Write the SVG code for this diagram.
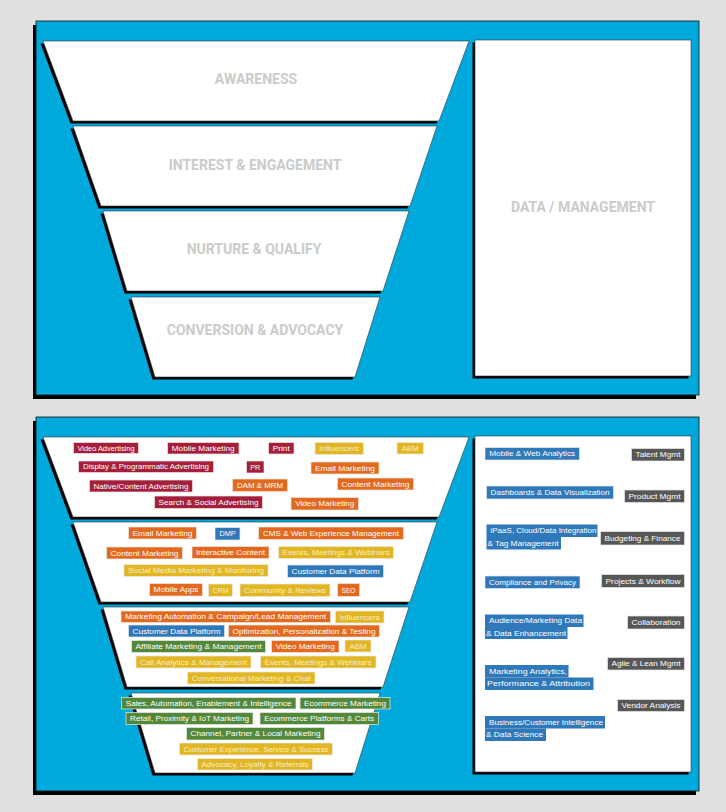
<svg xmlns="http://www.w3.org/2000/svg" width="726" height="812" viewBox="0 0 726 812">
<style>
.bg{fill:#e0e0e0}
.panel{fill:#00a9dc;stroke:#111;stroke-width:0.8}
.sh{fill:#000}
.box{fill:#fff;stroke:#333;stroke-width:0.6}
.hd{font-family:Roboto,"Liberation Sans",sans-serif;font-weight:bold;font-size:14px;fill:#cbcbcb;text-anchor:middle}
.t{stroke:#e8e8e8;stroke-width:0.7}
.red{fill:#a51f3b}.org{fill:#e2691e}.yel{fill:#e2b623}.blu{fill:#2f78b9}.grn{fill:#53883a}.gry{fill:#575757}
.tl{font-family:"Liberation Sans",Arial,sans-serif;font-size:7.5px;fill:#fff;text-anchor:middle}
.ty{fill:#f6efc4}
.ts{font-family:"Liberation Sans",Arial,sans-serif;font-size:7.5px;fill:#fff;text-anchor:start}
</style>
<rect class="bg" x="0" y="0" width="726" height="812"/>

<!-- TOP PANEL -->
<g id="top-panel">
<rect class="sh" x="33" y="25" width="663" height="374"/>
<rect class="panel" x="36" y="21" width="663" height="374"/>
</g>
<g id="awareness">
<polygon class="sh" points="40.5,43.5 466.5,43.5 436.5,123.5 70.5,123.5"/>
<polygon class="box" points="43,41 469,41 439,121 73,121"/>
<text class="hd" x="256" y="84">AWARENESS</text>
</g>
<g id="interest">
<polygon class="sh" points="70.5,128.5 434.5,128.5 407.5,208.5 98.5,208.5"/>
<polygon class="box" points="73,126 437,126 410,206 101,206"/>
<text class="hd" x="255" y="170">INTEREST &amp; ENGAGEMENT</text>
</g>
<g id="nurture">
<polygon class="sh" points="100.5,213.5 406.5,213.5 380.5,293.5 124.5,293.5"/>
<polygon class="box" points="103,211 409,211 383,291 127,291"/>
<text class="hd" x="254" y="254">NURTURE &amp; QUALIFY</text>
</g>
<g id="conversion">
<polygon class="sh" points="128.5,299.5 377.5,299.5 352.5,379.5 152.5,379.5"/>
<polygon class="box" points="131,297 380,297 355,377 155,377"/>
<text class="hd" x="255" y="335">CONVERSION &amp; ADVOCACY</text>
</g>
<g id="data-management">
<rect class="sh" x="472.5" y="42.5" width="216" height="336"/>
<rect class="box" x="475" y="40" width="216" height="336"/>
<text class="hd" x="583" y="212">DATA / MANAGEMENT</text>
</g>

<!-- BOTTOM PANEL -->
<g id="bottom-panel">
<rect class="sh" x="33" y="421" width="663" height="374"/>
<rect class="panel" x="36" y="417" width="663" height="374"/>
</g>
<g id="funnel-1">
<polygon class="sh" points="40.5,439.5 466.5,439.5 436.5,519.5 70.5,519.5"/>
<polygon class="box" points="43,437 469,437 439,517 73,517"/>
</g>
<g id="funnel-2">
<polygon class="sh" points="70.5,524.5 434.5,524.5 407.5,604.5 98.5,604.5"/>
<polygon class="box" points="73,522 437,522 410,602 101,602"/>
</g>
<g id="funnel-3">
<polygon class="sh" points="100.5,609.5 406.5,609.5 380.5,689.5 124.5,689.5"/>
<polygon class="box" points="103,607 409,607 383,687 127,687"/>
</g>
<g id="funnel-4">
<polygon class="sh" points="128.5,695.5 377.5,695.5 352.5,775.5 152.5,775.5"/>
<polygon class="box" points="131,693 380,693 355,773 155,773"/>
</g>
<g id="data-panel">
<rect class="sh" x="472.5" y="438.5" width="216" height="336"/>
<rect class="box" x="475" y="436" width="216" height="336"/>
</g>

<!-- Funnel 1 tags -->
<g id="t1-video-adv"><rect class="t red" x="73.5" y="442.5" width="65" height="11"/><text class="tl" x="106" y="450.6" textLength="57" lengthAdjust="spacingAndGlyphs">Video Advertising</text></g>
<g id="t1-mobile"><rect class="t red" x="167.5" y="442.5" width="71.5" height="11.5"/><text class="tl" x="203.2" y="450.8" textLength="63" lengthAdjust="spacingAndGlyphs">Mobile Marketing</text></g>
<g id="t1-print"><rect class="t red" x="268.5" y="442.5" width="25.5" height="11.5"/><text class="tl" x="281.2" y="450.8" textLength="17" lengthAdjust="spacingAndGlyphs">Print</text></g>
<g id="t1-influencers"><rect class="t yel" x="315" y="442.5" width="48.5" height="12"/><text class="tl ty" x="339.2" y="451" textLength="40" lengthAdjust="spacingAndGlyphs">Influencers</text></g>
<g id="t1-abm"><rect class="t yel" x="397" y="442.5" width="26.5" height="11.5"/><text class="tl ty" x="410.2" y="450.8" textLength="17" lengthAdjust="spacingAndGlyphs">ABM</text></g>
<g id="t1-display"><rect class="t red" x="78.5" y="461" width="135" height="11.5"/><text class="tl" x="146" y="469.3" textLength="126" lengthAdjust="spacingAndGlyphs">Display &amp; Programmatic Advertising</text></g>
<g id="t1-pr"><rect class="t red" x="246.5" y="461" width="17.5" height="12"/><text class="tl" x="255.2" y="469.6" textLength="10" lengthAdjust="spacingAndGlyphs">PR</text></g>
<g id="t1-email"><rect class="t org" x="311" y="462" width="68" height="12"/><text class="tl" x="345" y="470.6" textLength="60" lengthAdjust="spacingAndGlyphs">Email Marketing</text></g>
<g id="t1-native"><rect class="t red" x="89.5" y="480" width="103" height="12"/><text class="tl" x="141" y="488.6" textLength="95" lengthAdjust="spacingAndGlyphs">Native/Content Advertising</text></g>
<g id="t1-dam"><rect class="t org" x="232.5" y="479" width="55" height="12.5"/><text class="tl" x="260" y="487.9" textLength="46" lengthAdjust="spacingAndGlyphs">DAM &amp; MRM</text></g>
<g id="t1-content"><rect class="t org" x="337.5" y="478" width="76" height="12"/><text class="tl" x="375.5" y="486.6" textLength="68" lengthAdjust="spacingAndGlyphs">Content Marketing</text></g>
<g id="t1-search"><rect class="t red" x="154.5" y="496" width="108" height="12.5"/><text class="tl" x="208.5" y="504.9" textLength="100" lengthAdjust="spacingAndGlyphs">Search &amp; Social Advertising</text></g>
<g id="t1-video-mkt"><rect class="t org" x="291" y="497.5" width="67.5" height="12.5"/><text class="tl" x="324.7" y="506.4" textLength="59" lengthAdjust="spacingAndGlyphs">Video Marketing</text></g>

<!-- Funnel 2 tags -->
<g id="t2-email"><rect class="t org" x="128.5" y="527" width="68" height="12"/><text class="tl" x="162.5" y="535.6" textLength="60" lengthAdjust="spacingAndGlyphs">Email Marketing</text></g>
<g id="t2-dmp"><rect class="t blu" x="215" y="527.5" width="25" height="12.5"/><text class="tl" x="227.5" y="536.4" textLength="16" lengthAdjust="spacingAndGlyphs">DMP</text></g>
<g id="t2-cms"><rect class="t org" x="258.5" y="527" width="145" height="12.5"/><text class="tl" x="331" y="535.9" textLength="136" lengthAdjust="spacingAndGlyphs">CMS &amp; Web Experience Management</text></g>
<g id="t2-content"><rect class="t org" x="106.5" y="547" width="76" height="12"/><text class="tl" x="144.5" y="555.6" textLength="68" lengthAdjust="spacingAndGlyphs">Content Marketing</text></g>
<g id="t2-interactive"><rect class="t org" x="192" y="546.5" width="77" height="12"/><text class="tl" x="230.5" y="555.1" textLength="69" lengthAdjust="spacingAndGlyphs">Interactive Content</text></g>
<g id="t2-events"><rect class="t yel" x="278.5" y="546.5" width="115" height="12"/><text class="tl ty" x="336" y="555.1" textLength="107" lengthAdjust="spacingAndGlyphs">Events, Meetings &amp; Webinars</text></g>
<g id="t2-social"><rect class="t yel" x="124" y="564.5" width="144" height="12"/><text class="tl ty" x="196" y="573.1" textLength="136" lengthAdjust="spacingAndGlyphs">Social Media Marketing &amp; Monitoring</text></g>
<g id="t2-cdp"><rect class="t blu" x="287.5" y="565" width="96" height="12.5"/><text class="tl" x="335.5" y="573.9" textLength="88" lengthAdjust="spacingAndGlyphs">Customer Data Platform</text></g>
<g id="t2-mobile-apps"><rect class="t org" x="149.5" y="583.5" width="53" height="12.5"/><text class="tl" x="176" y="592.4" textLength="45" lengthAdjust="spacingAndGlyphs">Mobile Apps</text></g>
<g id="t2-crm"><rect class="t yel" x="208.5" y="584" width="24" height="12.5"/><text class="tl ty" x="220.5" y="592.9" textLength="16" lengthAdjust="spacingAndGlyphs">CRM</text></g>
<g id="t2-community"><rect class="t yel" x="240" y="584" width="90" height="12.5"/><text class="tl ty" x="285" y="592.9" textLength="82" lengthAdjust="spacingAndGlyphs">Community &amp; Reviews</text></g>
<g id="t2-seo"><rect class="t org" x="337.5" y="583.5" width="22" height="13"/><text class="tl" x="348.5" y="592.6" textLength="14" lengthAdjust="spacingAndGlyphs">SEO</text></g>

<!-- Funnel 3 tags -->
<g id="t3-automation"><rect class="t org" x="121" y="611" width="209.5" height="11.5"/><text class="tl" x="225.7" y="619.3" textLength="201" lengthAdjust="spacingAndGlyphs">Marketing Automation &amp; Campaign/Lead Management</text></g>
<g id="t3-influencers"><rect class="t yel" x="335.5" y="611" width="48.5" height="12"/><text class="tl ty" x="359.7" y="619.6" textLength="40" lengthAdjust="spacingAndGlyphs">Influencers</text></g>
<g id="t3-cdp"><rect class="t blu" x="128.5" y="625" width="96" height="12"/><text class="tl" x="176.5" y="633.6" textLength="88" lengthAdjust="spacingAndGlyphs">Customer Data Platform</text></g>
<g id="t3-optimization"><rect class="t org" x="228.5" y="625" width="151" height="12"/><text class="tl" x="304" y="633.6" textLength="143" lengthAdjust="spacingAndGlyphs">Optimization, Personalization &amp; Testing</text></g>
<g id="t3-affiliate"><rect class="t grn" x="131.5" y="640.5" width="134" height="12"/><text class="tl" x="198.5" y="649.1" textLength="126" lengthAdjust="spacingAndGlyphs">Affiliate Marketing &amp; Management</text></g>
<g id="t3-video"><rect class="t org" x="271.5" y="640.5" width="67.5" height="12"/><text class="tl" x="305.2" y="649.1" textLength="59" lengthAdjust="spacingAndGlyphs">Video Marketing</text></g>
<g id="t3-abm"><rect class="t yel" x="345" y="640" width="26" height="12"/><text class="tl ty" x="358" y="648.6" textLength="17" lengthAdjust="spacingAndGlyphs">ABM</text></g>
<g id="t3-call"><rect class="t yel" x="136" y="656" width="115" height="12"/><text class="tl ty" x="193.5" y="664.6" textLength="107" lengthAdjust="spacingAndGlyphs">Call Analytics &amp; Management</text></g>
<g id="t3-events"><rect class="t yel" x="260.5" y="656" width="115.5" height="12"/><text class="tl ty" x="318.2" y="664.6" textLength="107" lengthAdjust="spacingAndGlyphs">Events, Meetings &amp; Webinars</text></g>
<g id="t3-chat"><rect class="t yel" x="187.5" y="672" width="127.5" height="12"/><text class="tl ty" x="251.2" y="680.6" textLength="119" lengthAdjust="spacingAndGlyphs">Conversational Marketing &amp; Chat</text></g>

<!-- Funnel 4 tags -->
<g id="t4-sales"><rect class="t grn" x="121.5" y="697.5" width="174.5" height="11.5"/><text class="tl" x="208.7" y="705.8" textLength="166" lengthAdjust="spacingAndGlyphs">Sales, Automation, Enablement &amp; Intelligence</text></g>
<g id="t4-ecom-mkt"><rect class="t grn" x="300" y="697.5" width="90" height="11.5"/><text class="tl" x="345" y="705.8" textLength="82" lengthAdjust="spacingAndGlyphs">Ecommerce Marketing</text></g>
<g id="t4-retail"><rect class="t grn" x="126" y="712.5" width="127" height="12"/><text class="tl" x="189.5" y="721.1" textLength="119" lengthAdjust="spacingAndGlyphs">Retail, Proximity &amp; IoT Marketing</text></g>
<g id="t4-ecom-plat"><rect class="t grn" x="260" y="712.5" width="118.5" height="12"/><text class="tl" x="319.2" y="721.1" textLength="110" lengthAdjust="spacingAndGlyphs">Ecommerce Platforms &amp; Carts</text></g>
<g id="t4-channel"><rect class="t grn" x="186.5" y="727.5" width="138" height="12.5"/><text class="tl" x="255.5" y="736.4" textLength="130" lengthAdjust="spacingAndGlyphs">Channel, Partner &amp; Local Marketing</text></g>
<g id="t4-cx"><rect class="t yel" x="179.5" y="743" width="153" height="12"/><text class="tl ty" x="256" y="751.6" textLength="145" lengthAdjust="spacingAndGlyphs">Customer Experience, Service &amp; Success</text></g>
<g id="t4-advocacy"><rect class="t yel" x="197.5" y="758.5" width="115" height="11.5"/><text class="tl ty" x="255" y="766.8" textLength="107" lengthAdjust="spacingAndGlyphs">Advocacy, Loyalty &amp; Referrals</text></g>

<!-- Data panel tags -->
<g id="d-mobile-web"><rect class="t blu" x="485" y="447.5" width="94.5" height="12.5"/><text class="tl" x="532.2" y="456.4" textLength="86" lengthAdjust="spacingAndGlyphs">Mobile &amp; Web Analytics</text></g>
<g id="d-talent"><rect class="t gry" x="631.5" y="448.5" width="53" height="12.5"/><text class="tl" x="658" y="457.4" textLength="45" lengthAdjust="spacingAndGlyphs">Talent Mgmt</text></g>
<g id="d-dashboards"><rect class="t blu" x="486.5" y="486" width="127" height="13"/><text class="tl" x="550" y="495.1" textLength="119" lengthAdjust="spacingAndGlyphs">Dashboards &amp; Data Visualization</text></g>
<g id="d-product"><rect class="t gry" x="624.5" y="490" width="60" height="12.5"/><text class="tl" x="654.5" y="498.9" textLength="52" lengthAdjust="spacingAndGlyphs">Product Mgmt</text></g>
<g id="d-ipaas"><rect class="blu" x="486.5" y="524.5" width="111" height="12.5"/><rect class="blu" x="486.5" y="537" width="74.5" height="12.5"/><text class="ts" x="490.5" y="533.4" textLength="106" lengthAdjust="spacingAndGlyphs">iPaaS, Cloud/Data Integration</text><text class="ts" x="487.5" y="545.9" textLength="71" lengthAdjust="spacingAndGlyphs">&amp; Tag Management</text></g>
<g id="d-budgeting"><rect class="t gry" x="600.5" y="531.5" width="84" height="13.5"/><text class="tl" x="642.5" y="540.9" textLength="76" lengthAdjust="spacingAndGlyphs">Budgeting &amp; Finance</text></g>
<g id="d-compliance"><rect class="t blu" x="485" y="576" width="95" height="12.5"/><text class="tl" x="532.5" y="584.9" textLength="87" lengthAdjust="spacingAndGlyphs">Compliance and Privacy</text></g>
<g id="d-projects"><rect class="t gry" x="601.5" y="574.5" width="83" height="13"/><text class="tl" x="643" y="583.6" textLength="75" lengthAdjust="spacingAndGlyphs">Projects &amp; Workflow</text></g>
<g id="d-audience"><rect class="blu" x="485" y="614.5" width="98.5" height="12.5"/><rect class="blu" x="485" y="627" width="82.5" height="12"/><text class="ts" x="489" y="623.4" textLength="93" lengthAdjust="spacingAndGlyphs">Audience/Marketing Data</text><text class="ts" x="486" y="635.6" textLength="80" lengthAdjust="spacingAndGlyphs">&amp; Data Enhancement</text></g>
<g id="d-collab"><rect class="t gry" x="627.5" y="616" width="57" height="13"/><text class="tl" x="656" y="625.1" textLength="49" lengthAdjust="spacingAndGlyphs">Collaboration</text></g>
<g id="d-agile"><rect class="t gry" x="607.5" y="657.5" width="77" height="12.5"/><text class="tl" x="646" y="666.4" textLength="69" lengthAdjust="spacingAndGlyphs">Agile &amp; Lean Mgmt</text></g>
<g id="d-analytics"><rect class="blu" x="485" y="665" width="83.5" height="12.5"/><rect class="blu" x="485" y="677.5" width="108.5" height="12.5"/><text class="ts" x="489" y="673.9" textLength="78" lengthAdjust="spacingAndGlyphs">Marketing Analytics,</text><text class="ts" x="487" y="686.4" textLength="103" lengthAdjust="spacingAndGlyphs">Performance &amp; Attribution</text></g>
<g id="d-vendor"><rect class="t gry" x="617.5" y="699.5" width="67" height="12"/><text class="tl" x="651" y="708.1" textLength="59" lengthAdjust="spacingAndGlyphs">Vendor Analysis</text></g>
<g id="d-bi"><rect class="blu" x="485" y="716" width="120" height="12.5"/><rect class="blu" x="485" y="728.5" width="61" height="12.5"/><text class="ts" x="489" y="724.9" textLength="114" lengthAdjust="spacingAndGlyphs">Business/Customer Intelligence</text><text class="ts" x="486" y="737.4" textLength="57" lengthAdjust="spacingAndGlyphs">&amp; Data Science</text></g>
</svg>
